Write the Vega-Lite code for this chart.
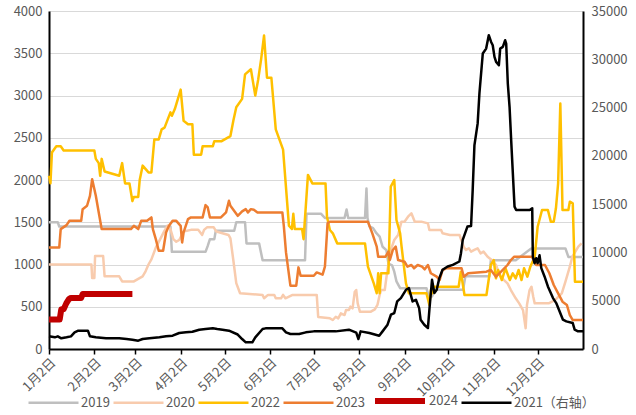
{
"$schema":"https://vega.github.io/schema/vega-lite/v6.json",
"width":534,"height":338,
"autosize":{"type":"none"},
"padding":{"left":49,"top":11,"right":53,"bottom":66},
"config":{"view":{"stroke":null},"font":"Noto Sans CJK SC",
 "axis":{"labelColor":"#595959","labelFontSize":13,"labelFont":"Noto Sans CJK SC"},
 "legend":{"labelColor":"#595959","labelFontSize":13,"labelFont":"Noto Sans CJK SC","symbolSize":2500,"symbolType":"stroke"}},
"data":{"values":[
{"s":"2019","d":0,"v":1500},{"s":"2019","d":6,"v":1500},{"s":"2019","d":7,"v":1450},{"s":"2019","d":83,"v":1450},{"s":"2019","d":84,"v":1150},{"s":"2019","d":107,"v":1150},{"s":"2019","d":108.5,"v":1220},{"s":"2019","d":110,"v":1300},{"s":"2019","d":113,"v":1300},{"s":"2019","d":114,"v":1400},{"s":"2019","d":126.6,"v":1400},{"s":"2019","d":128,"v":1500},{"s":"2019","d":134,"v":1500},{"s":"2019","d":135,"v":1250},{"s":"2019","d":143.6,"v":1250},{"s":"2019","d":146,"v":1050},{"s":"2019","d":175,"v":1050},{"s":"2019","d":176,"v":1600},{"s":"2019","d":186,"v":1600},{"s":"2019","d":188.6,"v":1550},{"s":"2019","d":202,"v":1550},{"s":"2019","d":203.4,"v":1650},{"s":"2019","d":204.5,"v":1550},{"s":"2019","d":216,"v":1550},{"s":"2019","d":217,"v":1900},{"s":"2019","d":217.7,"v":1550},{"s":"2019","d":219,"v":1450},{"s":"2019","d":221.5,"v":1430},{"s":"2019","d":223.8,"v":1370},{"s":"2019","d":226,"v":1330},{"s":"2019","d":228,"v":1210},{"s":"2019","d":230.6,"v":1170},{"s":"2019","d":232,"v":1010},{"s":"2019","d":234.5,"v":990},{"s":"2019","d":236,"v":915},{"s":"2019","d":237.5,"v":800},{"s":"2019","d":240,"v":720},{"s":"2019","d":258,"v":720},{"s":"2019","d":259.5,"v":620},{"s":"2019","d":261.8,"v":620},{"s":"2019","d":263.6,"v":700},{"s":"2019","d":283,"v":700},{"s":"2019","d":284.6,"v":860},{"s":"2019","d":301,"v":860},{"s":"2019","d":302,"v":1050},{"s":"2019","d":319,"v":1050},{"s":"2019","d":329.6,"v":1190},{"s":"2019","d":353,"v":1190},{"s":"2019","d":355,"v":1090},{"s":"2019","d":365,"v":1090},
{"s":"2020","d":0,"v":1000},{"s":"2020","d":29,"v":1000},{"s":"2020","d":29.5,"v":840},{"s":"2020","d":31,"v":840},{"s":"2020","d":31.5,"v":1100},{"s":"2020","d":37,"v":1100},{"s":"2020","d":38,"v":860},{"s":"2020","d":48,"v":860},{"s":"2020","d":50,"v":800},{"s":"2020","d":58,"v":800},{"s":"2020","d":61,"v":830},{"s":"2020","d":64,"v":860},{"s":"2020","d":66,"v":920},{"s":"2020","d":68,"v":1000},{"s":"2020","d":70,"v":1060},{"s":"2020","d":73,"v":1200},{"s":"2020","d":76,"v":1300},{"s":"2020","d":79,"v":1400},{"s":"2020","d":81,"v":1460},{"s":"2020","d":83,"v":1420},{"s":"2020","d":85,"v":1300},{"s":"2020","d":87,"v":1270},{"s":"2020","d":89,"v":1290},{"s":"2020","d":92,"v":1390},{"s":"2020","d":97,"v":1410},{"s":"2020","d":102,"v":1410},{"s":"2020","d":104.7,"v":1350},{"s":"2020","d":106,"v":1410},{"s":"2020","d":108,"v":1440},{"s":"2020","d":112.6,"v":1440},{"s":"2020","d":114.4,"v":1390},{"s":"2020","d":122.7,"v":1350},{"s":"2020","d":124,"v":1310},{"s":"2020","d":126,"v":1050},{"s":"2020","d":128,"v":780},{"s":"2020","d":130.6,"v":660},{"s":"2020","d":146,"v":640},{"s":"2020","d":147,"v":600},{"s":"2020","d":149.7,"v":640},{"s":"2020","d":154,"v":640},{"s":"2020","d":155,"v":600},{"s":"2020","d":158.6,"v":600},{"s":"2020","d":160,"v":640},{"s":"2020","d":161.6,"v":600},{"s":"2020","d":166.5,"v":640},{"s":"2020","d":183,"v":640},{"s":"2020","d":184,"v":380},{"s":"2020","d":192,"v":363},{"s":"2020","d":194,"v":343},{"s":"2020","d":196,"v":382},{"s":"2020","d":197.7,"v":363},{"s":"2020","d":199.5,"v":422},{"s":"2020","d":202,"v":402},{"s":"2020","d":203,"v":461},{"s":"2020","d":205,"v":461},{"s":"2020","d":206,"v":501},{"s":"2020","d":207.5,"v":481},{"s":"2020","d":209,"v":678},{"s":"2020","d":210,"v":698},{"s":"2020","d":211,"v":540},{"s":"2020","d":212.5,"v":442},{"s":"2020","d":220,"v":442},{"s":"2020","d":222.7,"v":469},{"s":"2020","d":224.5,"v":521},{"s":"2020","d":226,"v":639},{"s":"2020","d":227,"v":698},{"s":"2020","d":229.5,"v":698},{"s":"2020","d":231,"v":896},{"s":"2020","d":233.6,"v":1172},{"s":"2020","d":236,"v":1290},{"s":"2020","d":238.6,"v":1349},{"s":"2020","d":240.9,"v":1507},{"s":"2020","d":243,"v":1507},{"s":"2020","d":245.4,"v":1566},{"s":"2020","d":247.7,"v":1606},{"s":"2020","d":250,"v":1507},{"s":"2020","d":254.5,"v":1507},{"s":"2020","d":259,"v":1487},{"s":"2020","d":260,"v":1408},{"s":"2020","d":268,"v":1408},{"s":"2020","d":269,"v":1369},{"s":"2020","d":274,"v":1349},{"s":"2020","d":280.6,"v":1349},{"s":"2020","d":283.4,"v":1211},{"s":"2020","d":285,"v":1172},{"s":"2020","d":287,"v":1191},{"s":"2020","d":288.5,"v":1152},{"s":"2020","d":290.7,"v":1172},{"s":"2020","d":293,"v":1191},{"s":"2020","d":295,"v":1132},{"s":"2020","d":297,"v":1152},{"s":"2020","d":299.8,"v":1092},{"s":"2020","d":302.6,"v":1053},{"s":"2020","d":305.6,"v":994},{"s":"2020","d":307.8,"v":876},{"s":"2020","d":311,"v":816},{"s":"2020","d":313.4,"v":777},{"s":"2020","d":315.7,"v":698},{"s":"2020","d":319,"v":600},{"s":"2020","d":321.4,"v":540},{"s":"2020","d":324,"v":461},{"s":"2020","d":325.8,"v":245},{"s":"2020","d":326.7,"v":521},{"s":"2020","d":328.5,"v":698},{"s":"2020","d":329.8,"v":737},{"s":"2020","d":331,"v":619},{"s":"2020","d":332,"v":540},{"s":"2020","d":341.5,"v":540},{"s":"2020","d":346,"v":580},{"s":"2020","d":350.5,"v":659},{"s":"2020","d":353,"v":797},{"s":"2020","d":356,"v":974},{"s":"2020","d":357.7,"v":1092},{"s":"2020","d":361.8,"v":1211},{"s":"2020","d":364,"v":1250},
{"s":"2022","d":0,"v":2050},{"s":"2022","d":1,"v":1960},{"s":"2022","d":2,"v":2325},{"s":"2022","d":5,"v":2400},{"s":"2022","d":8,"v":2400},{"s":"2022","d":10,"v":2350},{"s":"2022","d":31,"v":2350},{"s":"2022","d":32,"v":2250},{"s":"2022","d":34,"v":2200},{"s":"2022","d":35,"v":2050},{"s":"2022","d":36,"v":2250},{"s":"2022","d":38,"v":2100},{"s":"2022","d":48,"v":2050},{"s":"2022","d":50,"v":2200},{"s":"2022","d":52,"v":1960},{"s":"2022","d":55,"v":1960},{"s":"2022","d":57,"v":1750},{"s":"2022","d":58,"v":1800},{"s":"2022","d":61,"v":1800},{"s":"2022","d":62,"v":2000},{"s":"2022","d":64,"v":2170},{"s":"2022","d":68,"v":2090},{"s":"2022","d":70,"v":2090},{"s":"2022","d":72,"v":2480},{"s":"2022","d":75,"v":2480},{"s":"2022","d":77,"v":2600},{"s":"2022","d":79,"v":2620},{"s":"2022","d":83,"v":2800},{"s":"2022","d":84,"v":2760},{"s":"2022","d":86,"v":2840},{"s":"2022","d":90,"v":3070},{"s":"2022","d":92,"v":2700},{"s":"2022","d":95,"v":2660},{"s":"2022","d":98,"v":2660},{"s":"2022","d":99,"v":2300},{"s":"2022","d":104,"v":2300},{"s":"2022","d":105,"v":2400},{"s":"2022","d":112,"v":2400},{"s":"2022","d":113,"v":2460},{"s":"2022","d":118,"v":2460},{"s":"2022","d":124,"v":2520},{"s":"2022","d":126,"v":2700},{"s":"2022","d":128,"v":2860},{"s":"2022","d":132,"v":2960},{"s":"2022","d":134,"v":3250},{"s":"2022","d":138,"v":3310},{"s":"2022","d":141,"v":3000},{"s":"2022","d":143,"v":3190},{"s":"2022","d":145,"v":3430},{"s":"2022","d":147,"v":3710},{"s":"2022","d":149,"v":3210},{"s":"2022","d":152,"v":3210},{"s":"2022","d":155,"v":2600},{"s":"2022","d":160,"v":2360},{"s":"2022","d":164,"v":1460},{"s":"2022","d":166,"v":1420},{"s":"2022","d":167,"v":1600},{"s":"2022","d":168,"v":1420},{"s":"2022","d":173,"v":1420},{"s":"2022","d":174,"v":1300},{"s":"2022","d":177,"v":2060},{"s":"2022","d":180,"v":1960},{"s":"2022","d":189,"v":1960},{"s":"2022","d":190,"v":1566},{"s":"2022","d":192,"v":1408},{"s":"2022","d":194,"v":1369},{"s":"2022","d":197,"v":1250},{"s":"2022","d":216,"v":1250},{"s":"2022","d":218,"v":974},{"s":"2022","d":222,"v":777},{"s":"2022","d":224,"v":660},{"s":"2022","d":225,"v":896},{"s":"2022","d":226,"v":660},{"s":"2022","d":227,"v":896},{"s":"2022","d":232,"v":896},{"s":"2022","d":233.6,"v":1921},{"s":"2022","d":236,"v":2000},{"s":"2022","d":237.5,"v":1527},{"s":"2022","d":240,"v":1369},{"s":"2022","d":241,"v":1211},{"s":"2022","d":244,"v":777},{"s":"2022","d":246,"v":659},{"s":"2022","d":258,"v":659},{"s":"2022","d":260,"v":521},{"s":"2022","d":261,"v":698},{"s":"2022","d":262,"v":659},{"s":"2022","d":263,"v":737},{"s":"2022","d":280,"v":737},{"s":"2022","d":281.5,"v":915},{"s":"2022","d":284,"v":639},{"s":"2022","d":299,"v":639},{"s":"2022","d":302,"v":994},{"s":"2022","d":304,"v":1053},{"s":"2022","d":305.5,"v":836},{"s":"2022","d":307,"v":935},{"s":"2022","d":309.5,"v":816},{"s":"2022","d":312,"v":955},{"s":"2022","d":315,"v":816},{"s":"2022","d":317,"v":896},{"s":"2022","d":319,"v":836},{"s":"2022","d":321,"v":935},{"s":"2022","d":323,"v":816},{"s":"2022","d":324.7,"v":955},{"s":"2022","d":327,"v":856},{"s":"2022","d":329,"v":974},{"s":"2022","d":332,"v":1092},{"s":"2022","d":334,"v":1447},{"s":"2022","d":337,"v":1645},{"s":"2022","d":341,"v":1645},{"s":"2022","d":343,"v":1507},{"s":"2022","d":345,"v":1507},{"s":"2022","d":346.5,"v":1665},{"s":"2022","d":348,"v":1961},{"s":"2022","d":349.5,"v":2905},{"s":"2022","d":351,"v":1645},{"s":"2022","d":355,"v":1645},{"s":"2022","d":356,"v":1743},{"s":"2022","d":358,"v":1724},{"s":"2022","d":359.5,"v":797},{"s":"2022","d":365,"v":797},
{"s":"2023","d":0,"v":1200},{"s":"2023","d":7,"v":1200},{"s":"2023","d":8,"v":1419},{"s":"2023","d":12,"v":1466},{"s":"2023","d":14,"v":1517},{"s":"2023","d":22,"v":1517},{"s":"2023","d":23,"v":1655},{"s":"2023","d":26,"v":1695},{"s":"2023","d":28,"v":1813},{"s":"2023","d":29.5,"v":2010},{"s":"2023","d":32,"v":1813},{"s":"2023","d":34,"v":1616},{"s":"2023","d":36,"v":1419},{"s":"2023","d":56,"v":1419},{"s":"2023","d":58,"v":1458},{"s":"2023","d":61,"v":1419},{"s":"2023","d":63,"v":1517},{"s":"2023","d":67,"v":1517},{"s":"2023","d":70,"v":1557},{"s":"2023","d":71,"v":1419},{"s":"2023","d":73,"v":1300},{"s":"2023","d":75,"v":1163},{"s":"2023","d":78,"v":1163},{"s":"2023","d":80,"v":1379},{"s":"2023","d":82,"v":1458},{"s":"2023","d":84.5,"v":1517},{"s":"2023","d":87,"v":1517},{"s":"2023","d":90,"v":1458},{"s":"2023","d":91,"v":1261},{"s":"2023","d":92,"v":1379},{"s":"2023","d":95,"v":1537},{"s":"2023","d":97,"v":1557},{"s":"2023","d":105,"v":1557},{"s":"2023","d":107,"v":1703},{"s":"2023","d":108.5,"v":1675},{"s":"2023","d":110,"v":1557},{"s":"2023","d":117.5,"v":1557},{"s":"2023","d":121,"v":1616},{"s":"2023","d":123,"v":1754},{"s":"2023","d":124,"v":1695},{"s":"2023","d":129,"v":1576},{"s":"2023","d":132,"v":1628},{"s":"2023","d":134.5,"v":1655},{"s":"2023","d":136,"v":1616},{"s":"2023","d":138,"v":1655},{"s":"2023","d":140,"v":1647},{"s":"2023","d":142.5,"v":1616},{"s":"2023","d":159.5,"v":1616},{"s":"2023","d":160.5,"v":1458},{"s":"2023","d":162,"v":1143},{"s":"2023","d":165,"v":749},{"s":"2023","d":169,"v":749},{"s":"2023","d":170.5,"v":966},{"s":"2023","d":172,"v":867},{"s":"2023","d":181,"v":867},{"s":"2023","d":183,"v":906},{"s":"2023","d":187,"v":880},{"s":"2023","d":188.6,"v":974},{"s":"2023","d":190.4,"v":1487},{"s":"2023","d":192,"v":1507},{"s":"2023","d":218,"v":1507},{"s":"2023","d":221,"v":1369},{"s":"2023","d":224,"v":1211},{"s":"2023","d":225,"v":1092},{"s":"2023","d":230,"v":1092},{"s":"2023","d":232,"v":1152},{"s":"2023","d":233,"v":1053},{"s":"2023","d":235,"v":1172},{"s":"2023","d":237,"v":1211},{"s":"2023","d":238.6,"v":1053},{"s":"2023","d":243,"v":1033},{"s":"2023","d":245,"v":974},{"s":"2023","d":247.7,"v":994},{"s":"2023","d":249.5,"v":955},{"s":"2023","d":252,"v":994},{"s":"2023","d":255,"v":974},{"s":"2023","d":256.8,"v":943},{"s":"2023","d":259,"v":994},{"s":"2023","d":261,"v":896},{"s":"2023","d":265,"v":856},{"s":"2023","d":267,"v":816},{"s":"2023","d":269,"v":935},{"s":"2023","d":271.5,"v":955},{"s":"2023","d":282,"v":955},{"s":"2023","d":283.5,"v":856},{"s":"2023","d":286.5,"v":896},{"s":"2023","d":299,"v":915},{"s":"2023","d":302,"v":935},{"s":"2023","d":305.5,"v":856},{"s":"2023","d":309,"v":915},{"s":"2023","d":313.4,"v":994},{"s":"2023","d":315.7,"v":1053},{"s":"2023","d":318,"v":1092},{"s":"2023","d":330,"v":1092},{"s":"2023","d":333,"v":994},{"s":"2023","d":339,"v":994},{"s":"2023","d":342,"v":896},{"s":"2023","d":345,"v":757},{"s":"2023","d":348,"v":659},{"s":"2023","d":351,"v":560},{"s":"2023","d":354,"v":521},{"s":"2023","d":356,"v":402},{"s":"2023","d":358,"v":343},{"s":"2023","d":365,"v":343},
{"s":"2024","d":0,"v":350},{"s":"2024","d":7.3,"v":350},{"s":"2024","d":8.4,"v":470},{"s":"2024","d":10,"v":470},{"s":"2024","d":11.8,"v":540},{"s":"2024","d":13.6,"v":590},{"s":"2024","d":15,"v":605},{"s":"2024","d":22,"v":605},{"s":"2024","d":23,"v":650},{"s":"2024","d":57,"v":650},
{"s":"2021（右轴）","d":0,"v":1310},{"s":"2021（右轴）","d":4,"v":1207},{"s":"2021（右轴）","d":6,"v":1310},{"s":"2021（右轴）","d":8.4,"v":1103},{"s":"2021（右轴）","d":12,"v":1207},{"s":"2021（右轴）","d":15,"v":1310},{"s":"2021（右轴）","d":17.5,"v":1724},{"s":"2021（右轴）","d":20,"v":1896},{"s":"2021（右轴）","d":26.6,"v":1896},{"s":"2021（右轴）","d":28,"v":1310},{"s":"2021（右轴）","d":32,"v":1207},{"s":"2021（右轴）","d":39,"v":1103},{"s":"2021（右轴）","d":48,"v":1103},{"s":"2021（右轴）","d":53,"v":1034},{"s":"2021（右轴）","d":57,"v":965},{"s":"2021（右轴）","d":61,"v":862},{"s":"2021（右轴）","d":64,"v":1034},{"s":"2021（右轴）","d":68.6,"v":1103},{"s":"2021（右轴）","d":75.5,"v":1207},{"s":"2021（右轴）","d":80,"v":1310},{"s":"2021（右轴）","d":84.5,"v":1379},{"s":"2021（右轴）","d":89,"v":1655},{"s":"2021（右轴）","d":93.6,"v":1724},{"s":"2021（右轴）","d":98,"v":1793},{"s":"2021（右轴）","d":102.7,"v":2000},{"s":"2021（右轴）","d":107,"v":2069},{"s":"2021（右轴）","d":112,"v":2138},{"s":"2021（右轴）","d":115,"v":2069},{"s":"2021（右轴）","d":118.6,"v":2000},{"s":"2021（右轴）","d":123,"v":1896},{"s":"2021（右轴）","d":129,"v":1500},{"s":"2021（右轴）","d":132,"v":1034},{"s":"2021（右轴）","d":134.5,"v":690},{"s":"2021（右轴）","d":139,"v":690},{"s":"2021（右轴）","d":141,"v":1207},{"s":"2021（右轴）","d":146,"v":2069},{"s":"2021（右轴）","d":148,"v":2138},{"s":"2021（右轴）","d":159.5,"v":2138},{"s":"2021（右轴）","d":162,"v":1724},{"s":"2021（右轴）","d":165,"v":1552},{"s":"2021（右轴）","d":171,"v":1552},{"s":"2021（右轴）","d":175.5,"v":1724},{"s":"2021（右轴）","d":181,"v":1826},{"s":"2021（右轴）","d":196,"v":1826},{"s":"2021（右轴）","d":205,"v":1998},{"s":"2021（右轴）","d":210,"v":1700},{"s":"2021（右轴）","d":211.5,"v":1034},{"s":"2021（右轴）","d":213,"v":1826},{"s":"2021（右轴）","d":219,"v":1654},{"s":"2021（右轴）","d":225.7,"v":1378},{"s":"2021（右轴）","d":228,"v":1826},{"s":"2021（右轴）","d":231.4,"v":2515},{"s":"2021（右轴）","d":233.7,"v":3548},{"s":"2021（右轴）","d":236,"v":3721},{"s":"2021（右轴）","d":238,"v":4926},{"s":"2021（右轴）","d":240.5,"v":5271},{"s":"2021（右轴）","d":244,"v":6132},{"s":"2021（右轴）","d":246,"v":6304},{"s":"2021（右轴）","d":248.5,"v":4926},{"s":"2021（右轴）","d":250.8,"v":5099},{"s":"2021（右轴）","d":253,"v":4237},{"s":"2021（右轴）","d":254,"v":3032},{"s":"2021（右轴）","d":256.5,"v":2515},{"s":"2021（右轴）","d":259,"v":2170},{"s":"2021（右轴）","d":260,"v":4065},{"s":"2021（右轴）","d":261.8,"v":7166},{"s":"2021（右轴）","d":263.4,"v":5788},{"s":"2021（右轴）","d":265,"v":6132},{"s":"2021（右轴）","d":266.8,"v":7338},{"s":"2021（右轴）","d":269,"v":8199},{"s":"2021（右轴）","d":272.5,"v":8544},{"s":"2021（右轴）","d":276,"v":8716},{"s":"2021（右轴）","d":280.5,"v":9060},{"s":"2021（右轴）","d":281.6,"v":9922},{"s":"2021（右轴）","d":282.8,"v":11300},{"s":"2021（右轴）","d":286,"v":12678},{"s":"2021（右轴）","d":288.5,"v":12747},{"s":"2021（右轴）","d":289.6,"v":16467},{"s":"2021（右轴）","d":290.8,"v":21118},{"s":"2021（右轴）","d":293,"v":23357},{"s":"2021（右轴）","d":294.2,"v":26458},{"s":"2021（右轴）","d":296.5,"v":30592},{"s":"2021（右轴）","d":298.8,"v":31108},{"s":"2021（右轴）","d":300.6,"v":32486},{"s":"2021（右轴）","d":302.2,"v":31797},{"s":"2021（右轴）","d":303.3,"v":31453},{"s":"2021（右轴）","d":304.5,"v":30247},{"s":"2021（右轴）","d":305.6,"v":29731},{"s":"2021（右轴）","d":307.5,"v":29386},{"s":"2021（右轴）","d":308.4,"v":31108},{"s":"2021（右轴）","d":310.2,"v":31280},{"s":"2021（右轴）","d":311.8,"v":31969},{"s":"2021（右轴）","d":312.5,"v":31625},{"s":"2021（右轴）","d":313.6,"v":27491},{"s":"2021（右轴）","d":314.8,"v":25080},{"s":"2021（右轴）","d":315.9,"v":21635},{"s":"2021（右轴）","d":318.2,"v":14745},{"s":"2021（右轴）","d":319.3,"v":14400},{"s":"2021（右轴）","d":328.5,"v":14400},{"s":"2021（右轴）","d":330.3,"v":14572},{"s":"2021（右轴）","d":330.7,"v":9577},{"s":"2021（右轴）","d":331.9,"v":8888},{"s":"2021（右轴）","d":333,"v":9405},{"s":"2021（右轴）","d":334,"v":8888},{"s":"2021（右轴）","d":335.3,"v":9700},{"s":"2021（右轴）","d":336.5,"v":8371},{"s":"2021（右轴）","d":338.7,"v":7510},{"s":"2021（右轴）","d":341,"v":6477},{"s":"2021（右轴）","d":344.5,"v":5271},{"s":"2021（右轴）","d":346.7,"v":4754},{"s":"2021（右轴）","d":351.3,"v":3032},{"s":"2021（右轴）","d":353.6,"v":2859},{"s":"2021（右轴）","d":358,"v":2687},{"s":"2021（右轴）","d":359.3,"v":1998},{"s":"2021（右轴）","d":361.6,"v":1826},{"s":"2021（右轴）","d":365,"v":1826}
]},
"encoding":{
 "x":{"field":"d","type":"quantitative","scale":{"domain":[0,365],"nice":false,"zero":false},
  "axis":{"title":null,"values":[0,31,59,90,120,151,181,212,243,273,304,334],
   "labelExpr":"(indexof([0,31,59,90,120,151,181,212,243,273,304,334], datum.value) + 1) + '月2日'",
   "labelAngle":-45,"labelAlign":"right","labelBaseline":"top","labelPadding":2,"labelOverlap":false,"labelBound":false,
   "domainColor":"#000000","domainWidth":2,"tickColor":"#000000","tickSize":5,"tickWidth":1.5,"grid":false}},
 "color":{"field":"s","type":"nominal","sort":null,
  "scale":{"domain":["2019","2020","2022","2023","2024","2021（右轴）"],"range":["#BFBFBF","#F8CBAD","#FFC000","#ED7D31","#C00000","#000000"]},
  "legend":{"title":null,"orient":"none","legendX":-22,"legendY":362,"direction":"horizontal","labelOffset":1,"columnPadding":-2}},
 "strokeWidth":{"field":"s","type":"nominal","sort":null,
  "scale":{"type":"ordinal","domain":["2019","2020","2022","2023","2024","2021（右轴）"],"range":[2.5,2.5,2.5,2.5,6,2.5]},
  "legend":{"title":null,"orient":"none","legendX":-22,"legendY":362,"direction":"horizontal","labelOffset":1,"columnPadding":-2}}
},
"layer":[
 {"transform":[{"filter":"datum.s !== '2021（右轴）'"}],
  "mark":{"type":"line","strokeJoin":"round"},
  "encoding":{"y":{"field":"v","type":"quantitative","scale":{"domain":[0,4000],"nice":false},
   "axis":{"title":null,"orient":"left","format":"d","values":[0,500,1000,1500,2000,2500,3000,3500,4000],"grid":true,"gridColor":"#D9D9D9","gridWidth":1,"ticks":false,"domainColor":"#000000","domainWidth":2,"labelPadding":7}}}},
 {"transform":[{"filter":"datum.s === '2021（右轴）'"}],
  "mark":{"type":"line","strokeJoin":"round"},
  "encoding":{"y":{"field":"v","type":"quantitative","scale":{"domain":[0,35000],"nice":false},
   "axis":{"title":null,"orient":"right","format":"d","values":[0,5000,10000,15000,20000,25000,30000,35000],"grid":false,"ticks":false,"domainColor":"#000000","domainWidth":2,"labelPadding":8}}}}
],
"resolve":{"scale":{"y":"independent"}}
}
